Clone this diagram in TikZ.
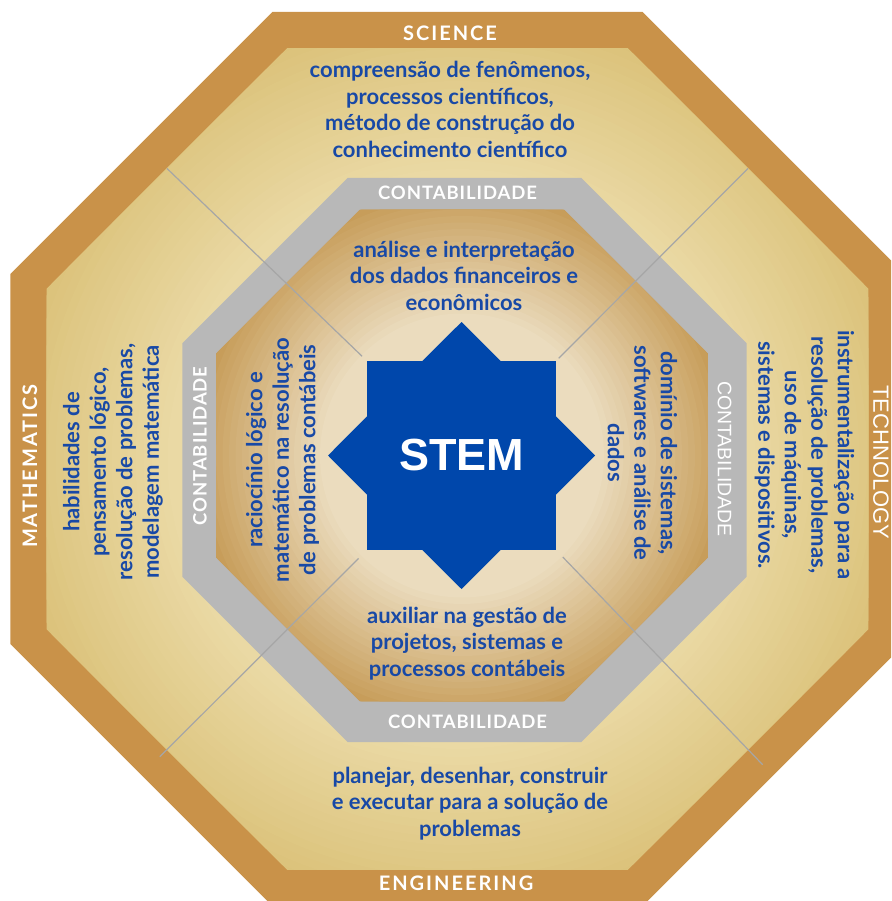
\documentclass[tikz,border=0pt]{standalone}
\usepackage{fontspec}
\setmainfont{Lato}
\newfontfamily\arialfont{Liberation Sans}
\usetikzlibrary{shapes.geometric}

\definecolor{rimbrown}{HTML}{C99249}
\definecolor{banddark}{HTML}{DBC27A}
\definecolor{bandlight}{HTML}{EAD9A4}
\definecolor{ringgray}{HTML}{B8B8B8}
\definecolor{coredark}{HTML}{C59A55}
\definecolor{corelight}{HTML}{EBDCBE}
\definecolor{starblue}{HTML}{0047AB}
\definecolor{txtblue}{HTML}{1849A6}
\definecolor{divgray}{HTML}{A6A6A6}

\begin{document}
\begin{tikzpicture}[x=1pt,y=-1pt,
    oct/.style={regular polygon, regular polygon sides=8, inner sep=0pt, outer sep=0pt},
    bluetext/.style={text=txtblue, align=center, font=\bfseries\fontsize{22}{26.5}\selectfont},
    caplabel/.style={text=white, font=\bfseries\fontsize{20}{20}\selectfont\addfontfeature{LetterSpace=10}},
    acclabel/.style={text=white, font=\bfseries\fontsize{18.5}{20}\selectfont\addfontfeature{LetterSpace=5}},
    divider/.style={draw=divgray, line width=1.2pt}]
    \clip (0,0) rectangle (891,901);

    \node[oct, fill=rimbrown, minimum size=967.7pt] (rim) at (457.5,459) {};
    \node[oct, minimum size=889.7pt] (band) at (457.5,459) {};
    \begin{scope}
        \clip (band.corner 1) \foreach \c in {2,...,8}{ -- (band.corner \c)} -- cycle;
        \foreach \k [evaluate=\k as \pct using int(\k*5)] in {0,...,20}
            \fill[bandlight!\pct!banddark] (band.center) circle[radius=450-\k*8];
    \end{scope}
    \node[oct, fill=ringgray, minimum size=610.5pt] (ring) at (464.5,460) {};
    \node[oct, minimum size=532.5pt] (core) at (462,455.5) {};
    \begin{scope}
        \clip (core.corner 1) \foreach \c in {2,...,8}{ -- (core.corner \c)} -- cycle;
        \foreach \k [evaluate=\k as \pct using int(\k*5)] in {0,...,20}
            \fill[corelight!\pct!coredark] (core.center) circle[radius=272-\k*6.5];
    \end{scope}

    \node[star, star points=8, star point ratio=1.306, minimum size=267pt, inner sep=0pt, outer sep=0pt,
        fill=starblue, text=white, font=\arialfont\bfseries\fontsize{45}{45}\selectfont] (hub) at (461.5,455.5) {STEM};

    \draw[divider, shorten >=7pt] (band.135) -- (hub.135);
    \draw[divider, shorten >=4pt] (band.45) -- (hub.45);
    \draw[divider, shorten <=-10pt, shorten >=12pt] (band.225) -- (hub.225);
    \draw[divider, shorten <=-21pt, shorten >=10pt] (band.315) -- (hub.315);

    \node[caplabel] (science) at (450,33) {SCIENCE};
    \node[caplabel] (engineering) at (456,883) {ENGINEERING};
    \node[caplabel, rotate=90] (mathematics) at (30,466) {MATHEMATICS};
    \node[text=white, inner sep=0pt, font=\arialfont\fontsize{22}{22}\selectfont, rotate=-90] (technology) at (881,462.5) {TECHNOLOGY};

    \node[acclabel] (acctop) at (457.5,193) {CONTABILIDADE};
    \node[acclabel] (accbottom) at (467.5,721.5) {CONTABILIDADE};
    \node[acclabel, rotate=90] (accleft) at (200,446) {CONTABILIDADE};
    \node[text=white, font=\arialfont\fontsize{19.5}{19.5}\selectfont, rotate=-90] (accright) at (724.5,459) {CONTABILIDADE};

    \node[bluetext] (sciencetext) at (450,109.5) {compreensão de fenômenos,\\processos científicos,\\método de construção do\\conhecimento científico};
    \node[bluetext] (coretop) at (464,275.5) {análise e interpretação\\dos dados financeiros e\\econômicos};
    \node[bluetext] (corebottom) at (467,643.5) {auxiliar na gestão de\\projetos, sistemas e\\processos contábeis};
    \node[bluetext] (engtext) at (470,803.5) {planejar, desenhar, construir\\e executar para a solução de\\problemas};
    \node[bluetext, rotate=90] (mathtext) at (113,462) {habilidades de\\pensamento lógico,\\resolução de problemas,\\modelagem matemática};
    \node[bluetext, rotate=90] (coreleft) at (282.5,460) {raciocínio lógico e\\matemático na resolução\\de problemas contábeis};
    \node[bluetext, rotate=-90] (coreright) at (642.5,453) {domínio de sistemas,\\softwares e análise de\\dados};
    \node[bluetext, rotate=-90] (techtext) at (804.5,455) {instrumentalização para a\\resolução de problemas,\\uso de máquinas,\\sistemas e dispositivos.};
\end{tikzpicture}
\end{document}
